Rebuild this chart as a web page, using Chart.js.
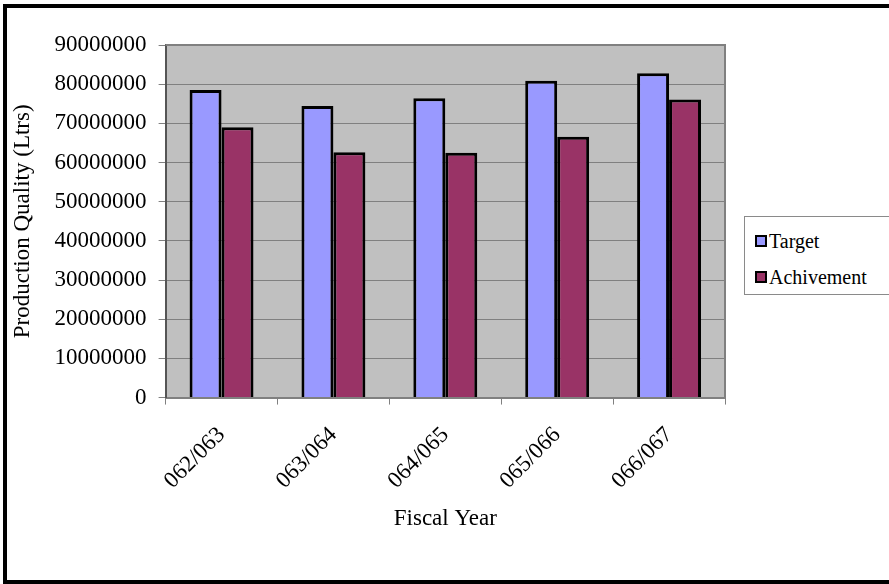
<!DOCTYPE html>
<html>
<head>
<meta charset="utf-8">
<script src="https://cdn.jsdelivr.net/npm/chart.js@4.4.0/dist/chart.umd.min.js"></script>
<style>
  html, body { margin: 0; padding: 0; background: #fff; overflow: hidden; }
  #wrap { position: relative; width: 889px; height: 584px; overflow: hidden; }
  canvas { display: block; }
  #legend { position: absolute; left: 744px; top: 216px; width: 145px; height: 77px;
            border: 1px solid #8a8a8a; border-right: none; background: #fff;
            font: 20px "Liberation Serif", "Times New Roman", serif; }
  #legend div { position: absolute; left: 10px; height: 24px; line-height: 24px; white-space: nowrap; }
  #legend span.sw { display: inline-block; width: 8px; height: 8px; border: 2px solid #000;
                    margin-right: 2px; vertical-align: 1px; }
</style>
</head>
<body>
<div id="wrap">
  <canvas id="myChart" width="889" height="584"></canvas>
  <div id="legend"></div>
</div>
<script>
// 회계연도별 생산 목표와 실적
const years = ['062/063', '063/064', '064/065', '065/066', '066/067'];
const target = [78500000, 74400000, 76400000, 80900000, 82800000];
const achivement = [69000000, 62600000, 62500000, 66600000, 76100000];
const yTicks = [0, 10000000, 20000000, 30000000, 40000000, 50000000, 60000000, 70000000, 80000000, 90000000];

const seriesNames = ['Target', 'Achivement'];
const seriesColors = ['#9999FF', '#993366'];

const font = { family: '"Liberation Serif", "Times New Roman", serif', size: 23 };

// 플롯 영역 회색 배경과 테두리, 바깥 검은 테두리
const plotBg = {
  id: 'plotBg',
  beforeDraw(chart) {
    const { ctx, chartArea: a } = chart;
    ctx.save();
    ctx.fillStyle = '#C0C0C0';
    ctx.fillRect(a.left, a.top, a.right - a.left, a.bottom - a.top);
    ctx.restore();
  },
  afterDatasetsDraw(chart) {
    const { ctx, chartArea: a } = chart;
    ctx.save();
    ctx.strokeStyle = '#808080';
    ctx.lineWidth = 2;
    ctx.beginPath();
    ctx.moveTo(a.left, a.top);
    ctx.lineTo(a.right, a.top);
    ctx.lineTo(a.right, a.bottom);
    ctx.stroke();
    ctx.restore();
  },
  afterDraw(chart) {
    const ctx = chart.ctx;
    ctx.save();
    ctx.fillStyle = '#000';
    ctx.fillRect(3, 4, chart.width - 3, 4);
    ctx.fillRect(3, 4, 4, 580 - 4);
    ctx.fillRect(3, 580, chart.width - 3, 4);
    ctx.restore();
  }
};

const chart = new Chart(document.getElementById('myChart').getContext('2d'), {
  type: 'bar',
  data: {
    labels: years,
    datasets: [
      { label: seriesNames[0], data: target, backgroundColor: seriesColors[0], borderColor: '#000', borderWidth: 3, borderSkipped: 'bottom' },
      { label: seriesNames[1], data: achivement, backgroundColor: seriesColors[1], borderColor: '#000', borderWidth: 3, borderSkipped: 'bottom' }
    ]
  },
  options: {
    responsive: false,
    animation: false,
    categoryPercentage: 2 / 3.5,
    barPercentage: 1,
    layout: { padding: { left: 5, top: 45, right: 164, bottom: 47 } },
    plugins: { legend: { display: false }, tooltip: { enabled: false } },
    scales: {
      x: {
        afterFit: scale => { scale.height -= 6; },
        grid: { offset: true, drawOnChartArea: false, tickLength: 7, tickColor: '#808080', lineWidth: 1 },
        border: { color: '#808080', width: 2 },
        ticks: { color: '#000', font: font, maxRotation: 45, minRotation: 45, padding: 17 },
        title: { display: true, text: 'Fiscal Year', color: '#000', font: font, padding: { top: 0 } }
      },
      y: {
        min: 0,
        max: 90000000,
        afterBuildTicks: scale => { scale.ticks = yTicks.map(v => ({ value: v })); },
        grid: { color: '#808080', lineWidth: 1, tickLength: 7, tickColor: '#808080' },
        border: { color: '#555', width: 2 },
        ticks: { color: '#000', font: font, padding: 12, callback: v => String(v) },
        title: { display: true, text: 'Production Quality (Ltrs)', color: '#000', font: font, padding: { bottom: 6 } }
      }
    }
  },
  plugins: [plotBg]
});

// 범례
const legend = document.getElementById('legend');
seriesNames.forEach((name, i) => {
  const row = document.createElement('div');
  row.style.top = (i === 0 ? 12 : 48) + 'px';
  row.innerHTML = `<span class="sw" style="background:${seriesColors[i]}"></span>${name}`;
  legend.appendChild(row);
});
</script>
</body>
</html>
